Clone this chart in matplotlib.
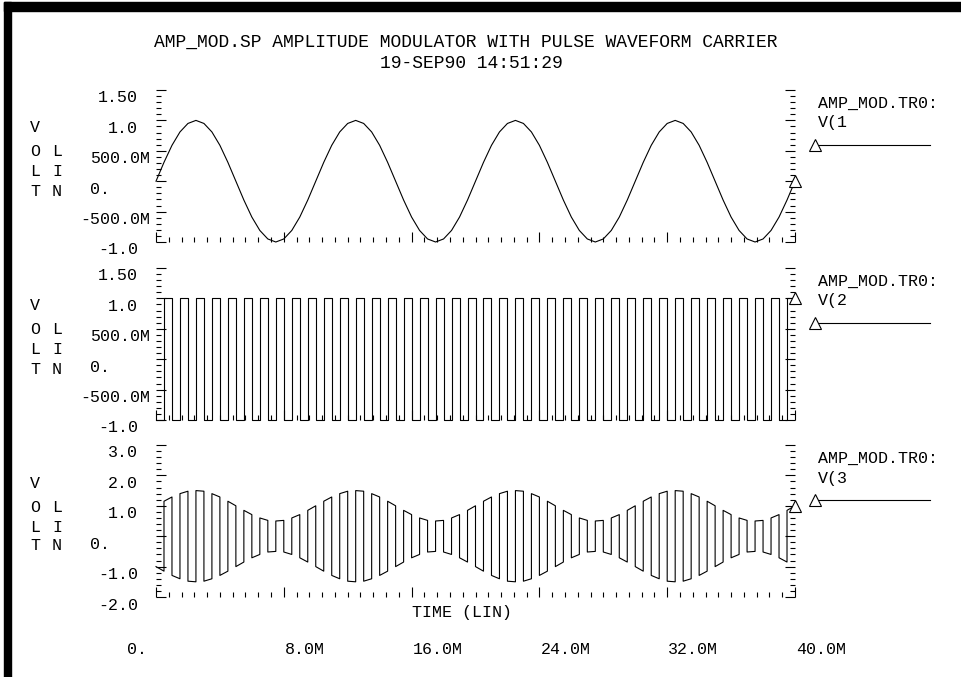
import matplotlib.pyplot as plt
import numpy as np
from matplotlib.patches import Rectangle
from matplotlib.ticker import MultipleLocator
from matplotlib.transforms import ScaledTranslation

W, H = 961, 677

time_ms = np.arange(0, 40.5, 0.5)

# V(1): modulating signal, one value every 0.5 ms
v1 = [0.0, 0.31, 0.59, 0.81, 0.95, 1.0, 0.95, 0.81, 0.59, 0.31,
      0.0, -0.31, -0.59, -0.81, -0.95, -1.0, -0.95, -0.81, -0.59, -0.31,
      0.0, 0.31, 0.59, 0.81, 0.95, 1.0, 0.95, 0.81, 0.59, 0.31,
      0.0, -0.31, -0.59, -0.81, -0.95, -1.0, -0.95, -0.81, -0.59, -0.31,
      0.0, 0.31, 0.59, 0.81, 0.95, 1.0, 0.95, 0.81, 0.59, 0.31,
      0.0, -0.31, -0.59, -0.81, -0.95, -1.0, -0.95, -0.81, -0.59, -0.31,
      0.0, 0.31, 0.59, 0.81, 0.95, 1.0, 0.95, 0.81, 0.59, 0.31,
      0.0, -0.31, -0.59, -0.81, -0.95, -1.0, -0.95, -0.81, -0.59, -0.31,
      0.0]

# V(2): pulse carrier level in each 0.5 ms slot
carrier = [-1, 1, -1, 1, -1, 1, -1, 1, -1, 1, -1, 1, -1, 1, -1, 1, -1, 1, -1, 1,
           -1, 1, -1, 1, -1, 1, -1, 1, -1, 1, -1, 1, -1, 1, -1, 1, -1, 1, -1, 1,
           -1, 1, -1, 1, -1, 1, -1, 1, -1, 1, -1, 1, -1, 1, -1, 1, -1, 1, -1, 1,
           -1, 1, -1, 1, -1, 1, -1, 1, -1, 1, -1, 1, -1, 1, -1, 1, -1, 1, -1, 1]

# V(3): size of the modulated carrier at each sample time
envelope = [1.0, 1.15, 1.29, 1.40, 1.48, 1.5, 1.48, 1.40, 1.29, 1.15,
            1.0, 0.85, 0.71, 0.60, 0.52, 0.5, 0.52, 0.60, 0.71, 0.85,
            1.0, 1.15, 1.29, 1.40, 1.48, 1.5, 1.48, 1.40, 1.29, 1.15,
            1.0, 0.85, 0.71, 0.60, 0.52, 0.5, 0.52, 0.60, 0.71, 0.85,
            1.0, 1.15, 1.29, 1.40, 1.48, 1.5, 1.48, 1.40, 1.29, 1.15,
            1.0, 0.85, 0.71, 0.60, 0.52, 0.5, 0.52, 0.60, 0.71, 0.85,
            1.0, 1.15, 1.29, 1.40, 1.48, 1.5, 1.48, 1.40, 1.29, 1.15,
            1.0, 0.85, 0.71, 0.60, 0.52, 0.5, 0.52, 0.60, 0.71, 0.85,
            1.0]

volt_ticks = [1.5, 1.0, 0.5, 0.0, -0.5, -1.0]
volt_labels = ["1.50", "1.0", "500.0M", "0.", "-500.0M", "-1.0"]
am_ticks = [3.0, 2.0, 1.0, 0.0, -1.0, -2.0]
am_labels = ["3.0", "2.0", "1.0", "0.", "-1.0", "-2.0"]
time_ticks = [0, 8, 16, 24, 32, 40]
time_labels = ["0.", "8.0M", "16.0M", "24.0M", "32.0M", "40.0M"]

# step traces for the carrier and the modulated output
t_step, v2, v3 = [], [], []
for i, lvl in enumerate(carrier):
    t_step += [time_ms[i], time_ms[i + 1]]
    v2 += [lvl, lvl]
    v3 += [lvl * envelope[i], lvl * envelope[i + 1]]

FONT = "Liberation Mono"
FS = 12
LW = 0.8

fig = plt.figure(figsize=(W / 100, H / 100), dpi=100)


def fx(px):
    return px / W


def fy(py):
    return 1 - py / H


panels = [
    (90, time_ms, v1, (-1.0, 1.5), 0.5, 0.1, volt_ticks, volt_labels, "V(1"),
    (268, t_step, v2, (-1.0, 1.5), 0.5, 0.1, volt_ticks, volt_labels, "V(2"),
    (445, t_step, v3, (-2.0, 3.0), 1.0, 0.2, am_ticks, am_labels, "V(3"),
]

ax_left, ax_right, ax_h = 156, 795, 152
axes = []
for top, xs, ys, ylim, ymaj, ymin, yt, yl, name in panels:
    ax = fig.add_axes([fx(ax_left), fy(top + ax_h), (ax_right - ax_left) / W, ax_h / H])
    ax.plot(xs, ys, color="black", lw=LW, clip_on=False)
    ax.plot(xs[-1], ys[-1], marker="^", ms=8, mfc="white", mec="black",
            mew=LW, clip_on=False)
    ax.set_xlim(0, 40)
    ax.set_ylim(*ylim)
    for s in ax.spines.values():
        s.set_visible(False)
    ax.xaxis.set_major_locator(MultipleLocator(8))
    ax.xaxis.set_minor_locator(MultipleLocator(0.8))
    ax.yaxis.set_major_locator(MultipleLocator(ymaj))
    ax.yaxis.set_minor_locator(MultipleLocator(ymin))
    ax.tick_params(which="both", direction="in", left=True, right=True,
                   bottom=True, top=False, labelleft=False, labelbottom=False,
                   width=LW, color="black")
    ax.tick_params(which="major", length=7.2)
    ax.tick_params(which="minor", length=3.6)

    # y tick labels, sitting a little below their ticks
    shift = ScaledTranslation(0, -0.08, fig.dpi_scale_trans)
    for val, lab in zip(yt, yl):
        if lab == "0.":
            x, ha = (90 - ax_left) / (ax_right - ax_left), "left"
        elif lab.endswith("M"):
            x, ha = (150 - ax_left) / (ax_right - ax_left), "right"
        else:
            x, ha = (138 - ax_left) / (ax_right - ax_left), "right"
        ax.text(x, val, lab, transform=ax.get_yaxis_transform() + shift,
                ha=ha, va="center", family=FONT, fontsize=FS)

    # VOLT / LIN axis caption
    for k, (a, b) in enumerate(zip("VOLT", " LIN")):
        yy = top + [38, 62, 82, 101][k]
        fig.text(fx(35), fy(yy), a, ha="center", va="center", family=FONT, fontsize=FS)
        fig.text(fx(57), fy(yy), b, ha="center", va="center", family=FONT, fontsize=FS)

    # trace legend on the right
    fig.text(fx(818), fy(top + 13), "AMP_MOD.TR0:", ha="left", va="center",
             family=FONT, fontsize=FS)
    fig.text(fx(818), fy(top + 33), name, ha="left", va="center",
             family=FONT, fontsize=FS)
    ax.plot([fx(815), fx(930)], [fy(top + 55)] * 2, color="black", lw=LW,
            transform=fig.transFigure, clip_on=False)
    ax.plot(fx(815), fy(top + 55), marker="^", ms=8, mfc="white", mec="black",
            mew=LW, transform=fig.transFigure, clip_on=False)
    axes.append(ax)

# time axis labels under the last panel
ax3 = axes[-1]
for val, lab in zip(time_ticks, time_labels):
    if lab == "0.":
        off, ha = -0.09, "right"
    else:
        off, ha = 0.01, "left"
    tr = ax3.get_xaxis_transform() + ScaledTranslation(off, 0, fig.dpi_scale_trans)
    ax3.text(val, -53 / ax_h, lab, transform=tr, ha=ha, va="center",
             family=FONT, fontsize=FS)
ax3.text(16, -16 / ax_h, "TIME (LIN)", transform=ax3.get_xaxis_transform(),
         ha="left", va="center", family=FONT, fontsize=FS)

fig.text(fx(466), fy(42), "AMP_MOD.SP AMPLITUDE MODULATOR WITH PULSE WAVEFORM CARRIER",
         ha="center", va="center", family=FONT, fontsize=13)
fig.text(fx(471), fy(63), "19-SEP90 14:51:29", ha="center", va="center",
         family=FONT, fontsize=13)

# heavy frame edges on the left and top
fig.patches.append(Rectangle((fx(4), 0), fx(7), fy(2), transform=fig.transFigure,
                             color="black", zorder=10))
fig.patches.append(Rectangle((fx(4), fy(11)), 1, 9 / H, transform=fig.transFigure,
                             color="black", zorder=10))

fig.savefig("out.png", dpi=100)
